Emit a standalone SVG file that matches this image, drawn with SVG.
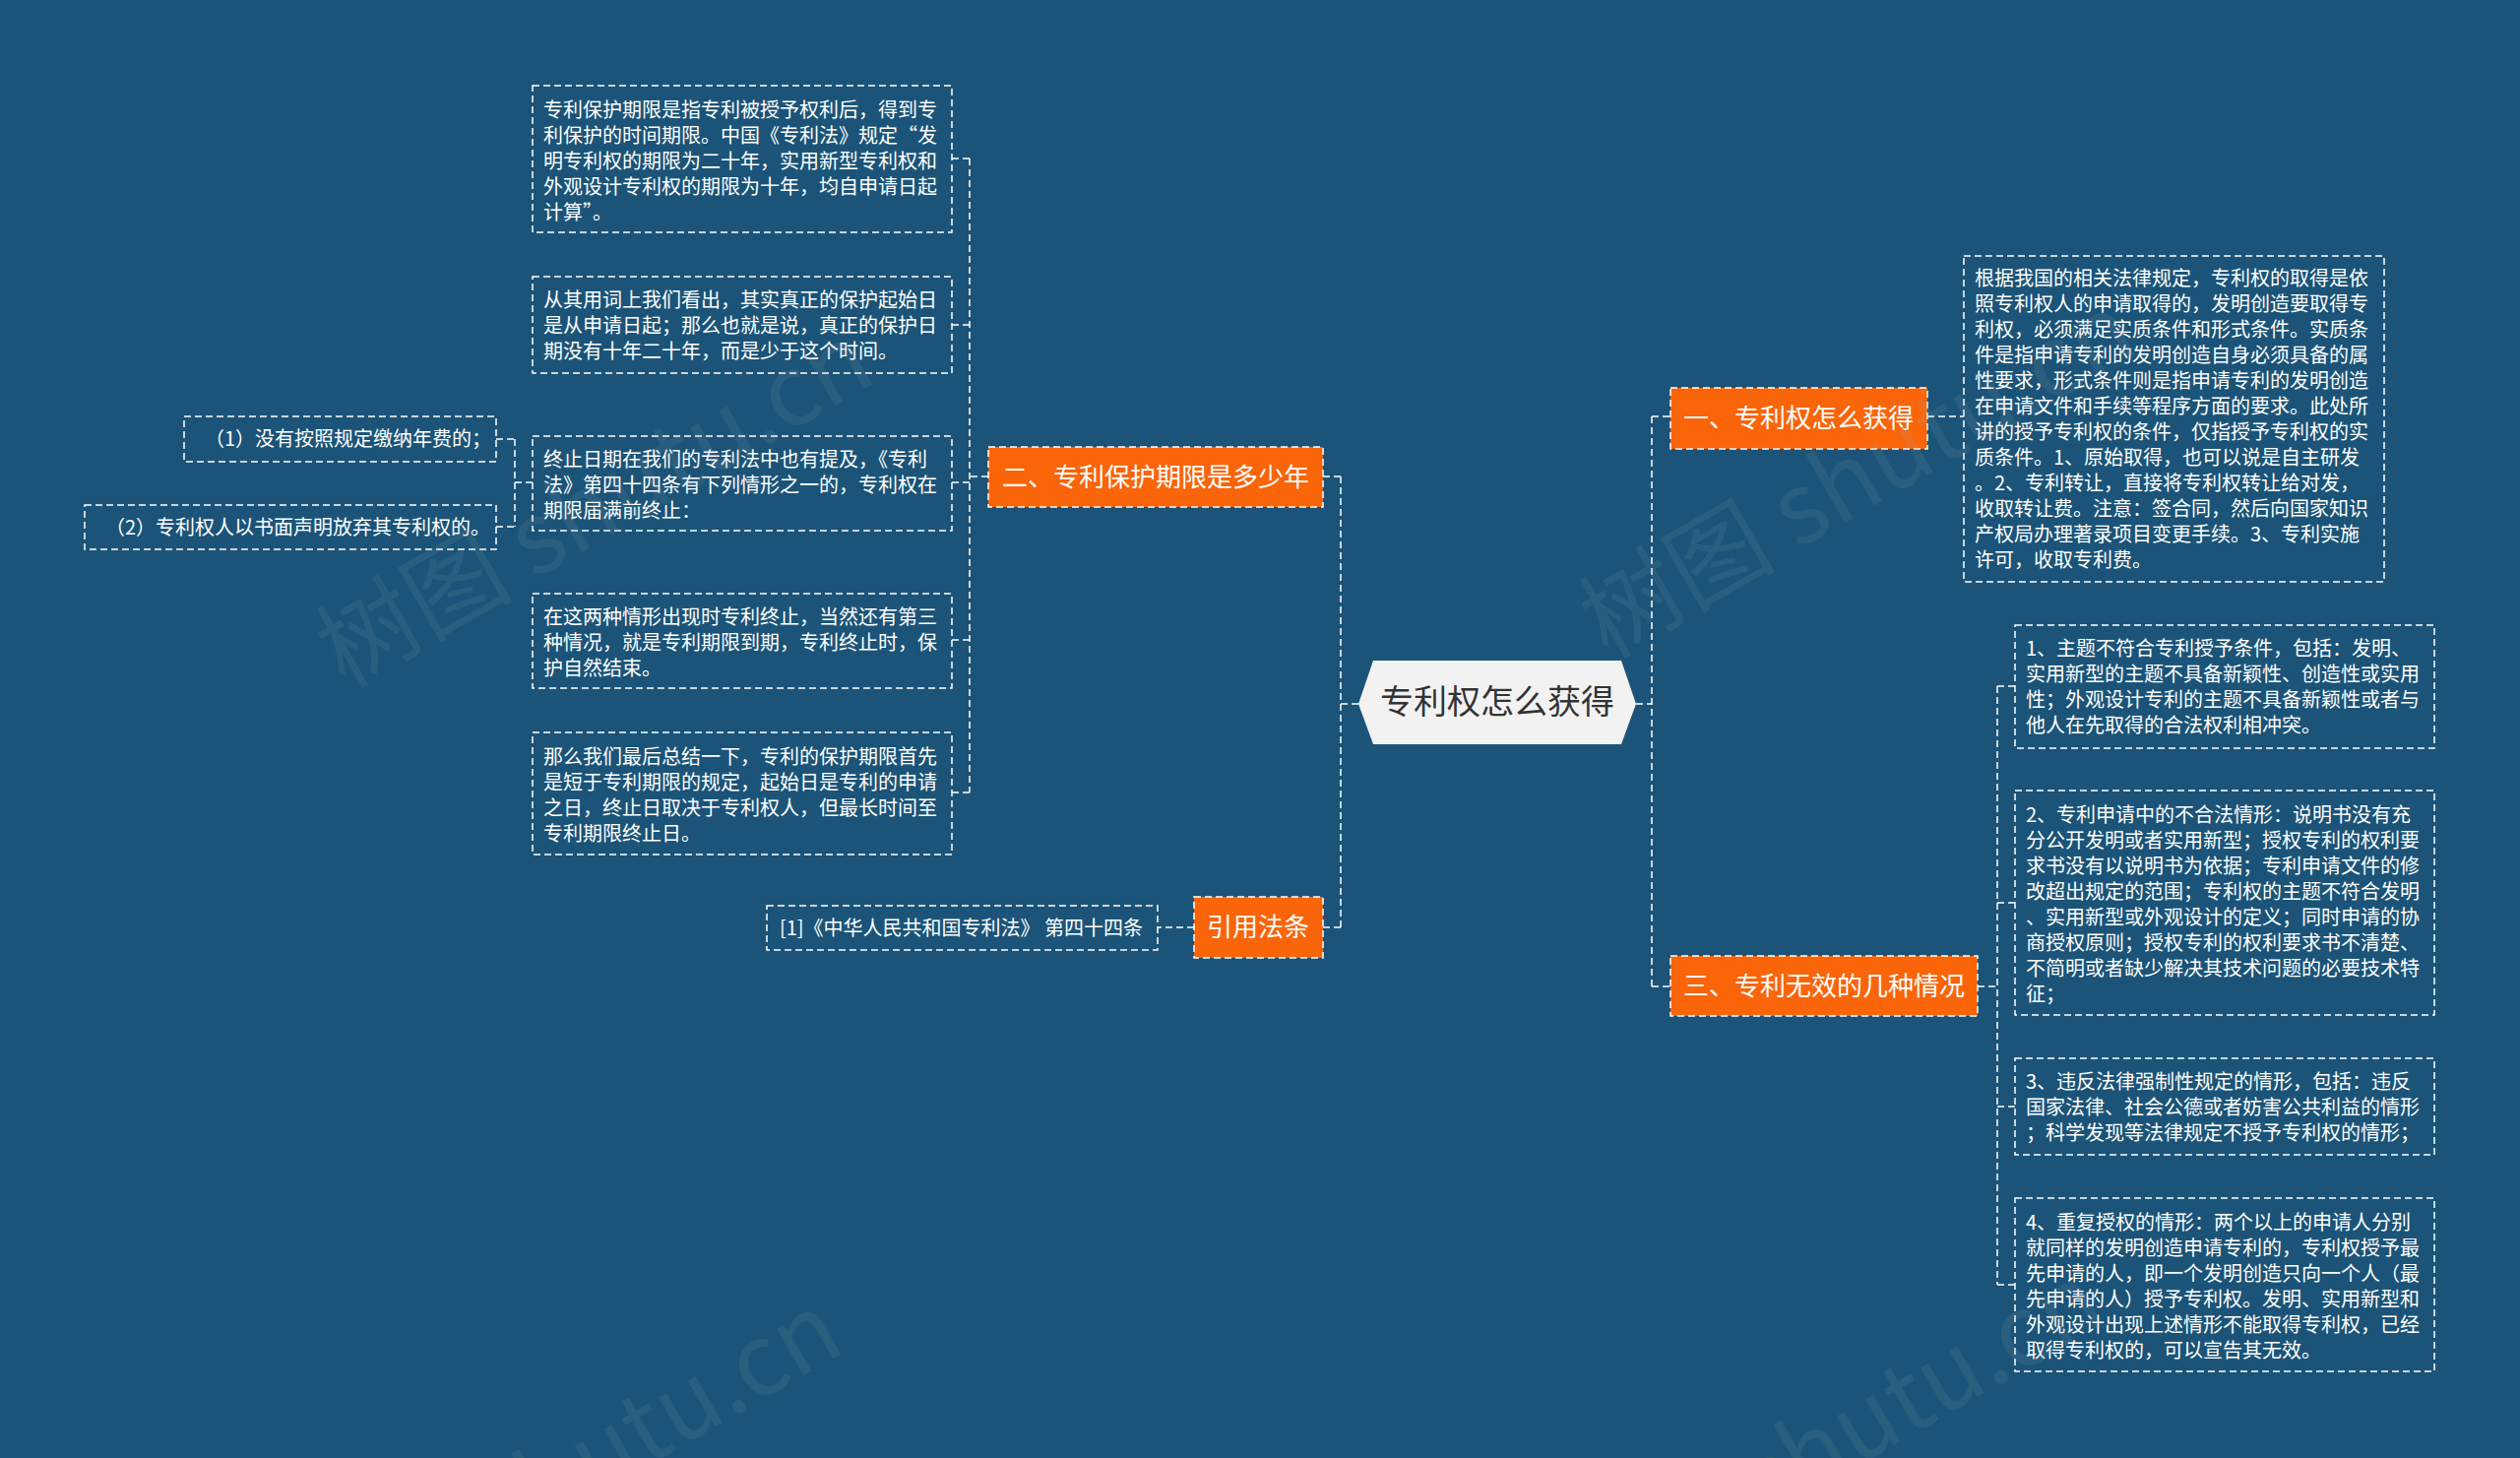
<svg xmlns="http://www.w3.org/2000/svg" width="2560" height="1481" viewBox="0 0 2560 1481">
<style>
.bg{fill:#1b5478}
.box{fill:none;stroke:#ffffff;stroke-width:1.5;stroke-dasharray:7 4}
.obox{fill:#fa650a;stroke:#ffffff;stroke-width:1.5;stroke-dasharray:7 4}
.conn{fill:none;stroke:#ffffff;stroke-width:1.5;stroke-dasharray:7 4}
.t{font-family:"Noto Sans CJK SC","Noto Sans",sans-serif;font-size:20px;fill:#ffffff}
.ot{font-family:"Noto Sans CJK SC","Noto Sans",sans-serif;font-size:26px;fill:#ffffff;text-anchor:middle}
.rt{font-family:"Noto Sans CJK SC","Noto Sans",sans-serif;font-size:34px;fill:#333333;text-anchor:middle}
.wm{font-family:"Noto Sans CJK SC","Noto Sans",sans-serif;font-size:100px;fill:#9aa7b2;opacity:0.12}
</style>
<rect class="bg" x="0" y="0" width="2560" height="1481"/>

<g id="connectors">
<path class="conn" d="M1380,715 H1362 M1362,484 V942 M1344,484 H1362 M1344,942 H1362"/>
<path class="conn" d="M1662,715 H1678 M1678,423 V1002 M1678,423 H1697 M1678,1002 H1697"/>
<path class="conn" d="M1004,484 H985 M985,161 V805 M967,161 H985 M967,330 H985 M967,490 H985 M967,650 H985 M967,805 H985"/>
<path class="conn" d="M541,490 H523 M523,446 V535 M504,446 H523 M504,535 H523"/>
<path class="conn" d="M1958,423 H1995"/>
<path class="conn" d="M2009,1002 H2029 M2029,697 V1305 M2029,697 H2047 M2029,917 H2047 M2029,1124 H2047 M2029,1305 H2047"/>
<path class="conn" d="M1213,942 H1176"/>
</g>

<g id="root">
<polygon points="1380,715 1395,671 1647,671 1662,715 1647,756 1395,756" fill="#f2f2f2"/>
<text class="rt" x="1521" y="725">专利权怎么获得</text>
</g>

<g id="n2">
<rect class="obox" x="1004" y="454" width="340" height="61"/>
<text class="ot" x="1174" y="494">二、专利保护期限是多少年</text>
</g>

<g id="n2-1">
<rect class="box" x="541" y="87" width="426" height="149"/>
<text class="t" y="119"><tspan x="552">专利保护期限是指专利被授予权利后，得到专</tspan><tspan x="552" dy="26">利保护的时间期限。中国《专利法》规定“发</tspan><tspan x="552" dy="26">明专利权的期限为二十年，实用新型专利权和</tspan><tspan x="552" dy="26">外观设计专利权的期限为十年，均自申请日起</tspan><tspan x="552" dy="26">计算”。</tspan></text>
</g>

<g id="n2-2">
<rect class="box" x="541" y="281" width="426" height="98"/>
<text class="t" y="312"><tspan x="552">从其用词上我们看出，其实真正的保护起始日</tspan><tspan x="552" dy="26">是从申请日起；那么也就是说，真正的保护日</tspan><tspan x="552" dy="26">期没有十年二十年，而是少于这个时间。</tspan></text>
</g>

<g id="n2-3">
<rect class="box" x="541" y="443" width="426" height="96"/>
<text class="t" y="474"><tspan x="552">终止日期在我们的专利法中也有提及，《专利</tspan><tspan x="552" dy="26">法》第四十四条有下列情形之一的，专利权在</tspan><tspan x="552" dy="26">期限届满前终止：</tspan></text>
</g>

<g id="n2-3-1">
<rect class="box" x="187" y="423" width="317" height="46"/>
<text class="t" x="208" y="453">（1）没有按照规定缴纳年费的；</text>
</g>

<g id="n2-3-2">
<rect class="box" x="86" y="513" width="418" height="45"/>
<text class="t" x="107" y="543">（2）专利权人以书面声明放弃其专利权的。</text>
</g>

<g id="n2-4">
<rect class="box" x="541" y="603" width="426" height="96"/>
<text class="t" y="634"><tspan x="552">在这两种情形出现时专利终止，当然还有第三</tspan><tspan x="552" dy="26">种情况，就是专利期限到期，专利终止时，保</tspan><tspan x="552" dy="26">护自然结束。</tspan></text>
</g>

<g id="n2-5">
<rect class="box" x="541" y="744" width="426" height="124"/>
<text class="t" y="776"><tspan x="552">那么我们最后总结一下，专利的保护期限首先</tspan><tspan x="552" dy="26">是短于专利期限的规定，起始日是专利的申请</tspan><tspan x="552" dy="26">之日，终止日取决于专利权人，但最长时间至</tspan><tspan x="552" dy="26">专利期限终止日。</tspan></text>
</g>

<g id="n4">
<rect class="obox" x="1213" y="911" width="131" height="62"/>
<text class="ot" x="1278" y="951">引用法条</text>
</g>

<g id="n4-1">
<rect class="box" x="779" y="920" width="397" height="45"/>
<text class="t" x="792" y="950">[1]《中华人民共和国专利法》 第四十四条</text>
</g>

<g id="n1">
<rect class="obox" x="1697" y="394" width="261" height="62"/>
<text class="ot" x="1827" y="434">一、专利权怎么获得</text>
</g>

<g id="n1-1">
<rect class="box" x="1995" y="260" width="427" height="331"/>
<text class="t" y="290"><tspan x="2006">根据我国的相关法律规定，专利权的取得是依</tspan><tspan x="2006" dy="26">照专利权人的申请取得的，发明创造要取得专</tspan><tspan x="2006" dy="26">利权，必须满足实质条件和形式条件。实质条</tspan><tspan x="2006" dy="26">件是指申请专利的发明创造自身必须具备的属</tspan><tspan x="2006" dy="26">性要求，形式条件则是指申请专利的发明创造</tspan><tspan x="2006" dy="26">在申请文件和手续等程序方面的要求。此处所</tspan><tspan x="2006" dy="26">讲的授予专利权的条件，仅指授予专利权的实</tspan><tspan x="2006" dy="26">质条件。1、原始取得，也可以说是自主研发</tspan><tspan x="2006" dy="26">。2、专利转让，直接将专利权转让给对发，</tspan><tspan x="2006" dy="26">收取转让费。注意：签合同，然后向国家知识</tspan><tspan x="2006" dy="26">产权局办理著录项目变更手续。3、专利实施</tspan><tspan x="2006" dy="26">许可，收取专利费。</tspan></text>
</g>

<g id="n3">
<rect class="obox" x="1697" y="971" width="312" height="61"/>
<text class="ot" x="1853" y="1011">三、专利无效的几种情况</text>
</g>

<g id="n3-1">
<rect class="box" x="2047" y="635" width="426" height="125"/>
<text class="t" y="666"><tspan x="2058">1、主题不符合专利授予条件，包括：发明、</tspan><tspan x="2058" dy="26">实用新型的主题不具备新颖性、创造性或实用</tspan><tspan x="2058" dy="26">性；外观设计专利的主题不具备新颖性或者与</tspan><tspan x="2058" dy="26">他人在先取得的合法权利相冲突。</tspan></text>
</g>

<g id="n3-2">
<rect class="box" x="2047" y="803" width="426" height="228"/>
<text class="t" y="835"><tspan x="2058">2、专利申请中的不合法情形：说明书没有充</tspan><tspan x="2058" dy="26">分公开发明或者实用新型；授权专利的权利要</tspan><tspan x="2058" dy="26">求书没有以说明书为依据；专利申请文件的修</tspan><tspan x="2058" dy="26">改超出规定的范围；专利权的主题不符合发明</tspan><tspan x="2058" dy="26">、实用新型或外观设计的定义；同时申请的协</tspan><tspan x="2058" dy="26">商授权原则；授权专利的权利要求书不清楚、</tspan><tspan x="2058" dy="26">不简明或者缺少解决其技术问题的必要技术特</tspan><tspan x="2058" dy="26">征；</tspan></text>
</g>

<g id="n3-3">
<rect class="box" x="2047" y="1075" width="426" height="98"/>
<text class="t" y="1106"><tspan x="2058">3、违反法律强制性规定的情形，包括：违反</tspan><tspan x="2058" dy="26">国家法律、社会公德或者妨害公共利益的情形</tspan><tspan x="2058" dy="26">；科学发现等法律规定不授予专利权的情形；</tspan></text>
</g>

<g id="n3-4">
<rect class="box" x="2047" y="1217" width="426" height="176"/>
<text class="t" y="1249"><tspan x="2058">4、重复授权的情形：两个以上的申请人分别</tspan><tspan x="2058" dy="26">就同样的发明创造申请专利的，专利权授予最</tspan><tspan x="2058" dy="26">先申请的人，即一个发明创造只向一个人（最</tspan><tspan x="2058" dy="26">先申请的人）授予专利权。发明、实用新型和</tspan><tspan x="2058" dy="26">外观设计出现上述情形不能取得专利权，已经</tspan><tspan x="2058" dy="26">取得专利权的，可以宣告其无效。</tspan></text>
</g>

<g id="watermark">
<text class="wm" transform="translate(350,700) rotate(-30)">树图 shutu.cn</text>
<text class="wm" transform="translate(1633,670) rotate(-30)">树图 shutu.cn</text>
<text class="wm" transform="translate(318,1685) rotate(-30)">树图 shutu.cn</text>
<text class="wm" transform="translate(1600,1655) rotate(-30)">树图 shutu.cn</text>
</g>
</svg>
